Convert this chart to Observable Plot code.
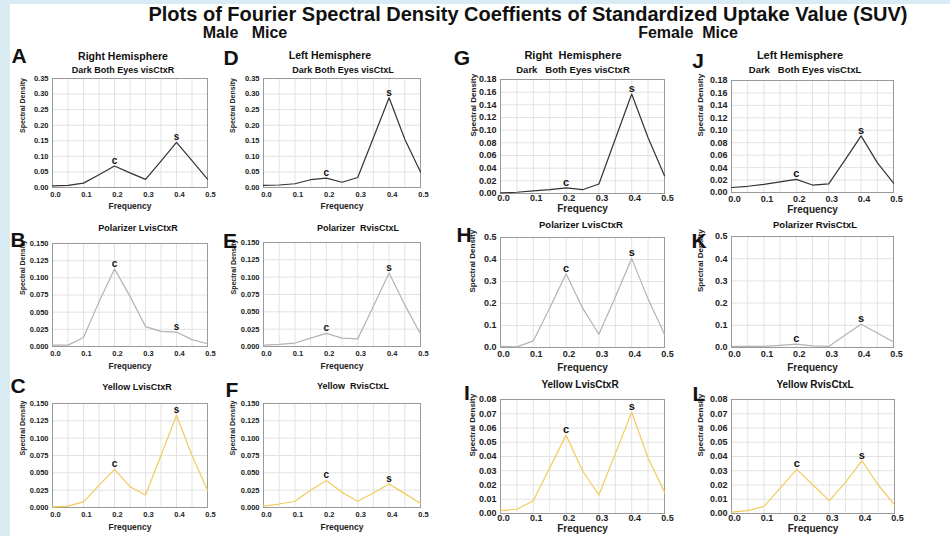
<!DOCTYPE html>
<html><head><meta charset="utf-8">
<script src="https://cdn.jsdelivr.net/npm/d3@7"></script>
<script src="https://cdn.jsdelivr.net/npm/@observablehq/plot@0.6"></script>
<style>
body{margin:0;background:#fff;}
#fig{position:relative;width:950px;height:536px;background:#d9ecf3;overflow:hidden;font-family:"Liberation Sans",Arial,sans-serif;}
#inner{position:absolute;left:10px;top:4px;right:0;bottom:0;background:#fff;}
.t{position:absolute;transform:translate(-50%,-50%);white-space:pre;font-weight:bold;color:#111;line-height:1;}
.p{position:absolute;}
</style></head><body><div id="fig"><div id="inner"></div></div>
<script>
// ---- data ----
const freq = [0, 0.05, 0.1, 0.15, 0.2, 0.25, 0.3, 0.35, 0.4, 0.45, 0.5];
const freqTicks = [0, 0.1, 0.2, 0.3, 0.4, 0.5];
const freqGrid = [0, 0.05, 0.1, 0.15, 0.2, 0.25, 0.3, 0.35, 0.4, 0.45, 0.5];

// Male mice
const sdA = [0.005, 0.007, 0.014, 0.041, 0.069, 0.047, 0.026, 0.085, 0.145, 0.086, 0.027];
const sdD = [0.007, 0.008, 0.012, 0.025, 0.030, 0.017, 0.032, 0.160, 0.288, 0.155, 0.050];
const sdB = [0.002, 0.002, 0.013, 0.065, 0.113, 0.073, 0.029, 0.022, 0.021, 0.010, 0.004];
const sdE = [0.002, 0.003, 0.005, 0.012, 0.019, 0.012, 0.011, 0.058, 0.106, 0.060, 0.018];
const sdC = [0.001, 0.002, 0.008, 0.032, 0.055, 0.030, 0.018, 0.075, 0.133, 0.075, 0.025];
const sdF = [0.002, 0.005, 0.009, 0.025, 0.039, 0.022, 0.009, 0.021, 0.034, 0.020, 0.006];
// Female mice
const sdG = [0.001, 0.002, 0.004, 0.006, 0.009, 0.006, 0.015, 0.086, 0.157, 0.088, 0.028];
const sdJ = [0.008, 0.010, 0.013, 0.017, 0.021, 0.012, 0.014, 0.052, 0.091, 0.048, 0.015];
const sdH = [0.005, 0.003, 0.030, 0.180, 0.335, 0.180, 0.060, 0.230, 0.405, 0.220, 0.060];
const sdK = [0.005, 0.005, 0.005, 0.010, 0.015, 0.007, 0.005, 0.055, 0.105, 0.065, 0.025];
const sdI = [0.002, 0.003, 0.009, 0.032, 0.055, 0.030, 0.013, 0.042, 0.071, 0.039, 0.015];
const sdL = [0.001, 0.002, 0.005, 0.018, 0.031, 0.020, 0.009, 0.022, 0.037, 0.020, 0.006];

const yTicks035 = [0, 0.05, 0.10, 0.15, 0.20, 0.25, 0.30, 0.35];
const yTicks015 = [0, 0.025, 0.05, 0.075, 0.10, 0.125, 0.15];
const yTicks018 = [0, 0.02, 0.04, 0.06, 0.08, 0.10, 0.12, 0.14, 0.16, 0.18];
const yTicks05 = [0, 0.1, 0.2, 0.3, 0.4, 0.5];
const yTicks008 = [0, 0.01, 0.02, 0.03, 0.04, 0.05, 0.06, 0.07, 0.08];

const peakLabels = ["c", "s"];
const mainTitle = "Plots of Fourier Spectral Density Coeffients of Standardized Uptake Value (SUV)";

// ---- layout ----
const fig = document.getElementById("fig");
function txt(s, x, y, size, extra) {
  const d = document.createElement("div");
  d.className = "t";
  d.textContent = s;
  d.style.left = x + "px"; d.style.top = y + "px"; d.style.fontSize = size + "px";
  if (extra) Object.assign(d.style, extra);
  fig.appendChild(d);
}

const DARK = "#333333", POL = "#b3b3b3", YEL = "#f2cb5c";

const panels = [
  {v: sdA, c: DARK, l: 52, r: 207, t: 78, b: 187, ymax: 0.35, yt: yTicks035, fmt: ".2f", fem: false, tdy: 8, fdy: 19, sdx: 30},
  {v: sdD, c: DARK, l: 263, r: 420, t: 78, b: 187, ymax: 0.35, yt: yTicks035, fmt: ".2f", fem: false, tdy: 8, fdy: 19, sdx: 31},
  {v: sdB, c: POL, l: 52, r: 207, t: 243, b: 346, ymax: 0.15, yt: yTicks015, fmt: ".3f", fem: false, tdy: 8, fdy: 20, sdx: 30},
  {v: sdE, c: POL, l: 263, r: 420, t: 242, b: 346, ymax: 0.15, yt: yTicks015, fmt: ".3f", fem: false, tdy: 8, fdy: 20, sdx: 30},
  {v: sdC, c: YEL, l: 52, r: 207, t: 403, b: 507, ymax: 0.15, yt: yTicks015, fmt: ".3f", fem: false, tdy: 8, fdy: 20, sdx: 30},
  {v: sdF, c: YEL, l: 263, r: 420, t: 403, b: 507, ymax: 0.15, yt: yTicks015, fmt: ".3f", fem: false, tdy: 8, fdy: 20, sdx: 31},
  {v: sdG, c: DARK, l: 500, r: 664, t: 79, b: 193, ymax: 0.18, yt: yTicks018, fmt: ".2f", fem: true, tdy: 6, fdy: 15, sdx: 27},
  {v: sdJ, c: DARK, l: 731, r: 893, t: 80, b: 192, ymax: 0.18, yt: yTicks018, fmt: ".2f", fem: true, tdy: 8, fdy: 17, sdx: 31},
  {v: sdH, c: POL, l: 500, r: 664, t: 237, b: 347, ymax: 0.5, yt: yTicks05, fmt: ".1f", fem: true, tdy: 8, fdy: 20, sdx: 28},
  {v: sdK, c: POL, l: 731, r: 893, t: 236, b: 347, ymax: 0.5, yt: yTicks05, fmt: ".1f", fem: true, tdy: 8, fdy: 20, sdx: 31},
  {v: sdI, c: YEL, l: 500, r: 664, t: 399, b: 513, ymax: 0.08, yt: yTicks008, fmt: ".2f", fem: true, tdy: 6, fdy: 15, sdx: 28},
  {v: sdL, c: YEL, l: 731, r: 894, t: 399, b: 513, ymax: 0.08, yt: yTicks008, fmt: ".2f", fem: true, tdy: 6, fdy: 15, sdx: 31}
];

const ML = 45, MR = 10, MT = 12, MB = 30;
for (const p of panels) {
  const tickFs = p.fem ? 9 : 7.5;
  const sdFs = p.fem ? 8 : 7;
  const frFs = p.fem ? 10 : 8.5;
  const pts = freq.map((f, i) => ({f, s: p.v[i]}));
  const peaks = [{f: freq[4], s: p.v[4], t: peakLabels[0]}, {f: freq[8], s: p.v[8], t: peakLabels[1]}];
  const chart = Plot.plot({
    width: p.r - p.l + ML + MR,
    height: p.b - p.t + MT + MB,
    marginLeft: ML, marginRight: MR, marginTop: MT, marginBottom: MB,
    style: {background: "transparent", overflow: "visible", fontFamily: "'Liberation Sans', Arial, sans-serif", fontWeight: "bold", color: "#222"},
    x: {domain: [0, 0.5]},
    y: {domain: [0, p.ymax]},
    marks: [
      Plot.gridX(freqGrid, {stroke: "#e2e2e2", strokeOpacity: 1}),
      Plot.gridY(p.yt, {stroke: "#e2e2e2", strokeOpacity: 1}),
      Plot.frame({stroke: "#9a9a9a"}),
      Plot.line(pts, {x: "f", y: "s", stroke: p.c, strokeWidth: 1.2}),
      Plot.text(peaks, {x: "f", y: "s", text: "t", lineAnchor: "bottom", dy: -2, fontSize: p.fem ? 11 : 10, fontWeight: "bold", fill: "#111"}),
      Plot.axisX(freqTicks, {tickSize: 0, tickPadding: p.tdy - tickFs / 2, dx: 3, tickFormat: d3.format(".1f"), fontSize: tickFs, label: null}),
      Plot.axisY(p.yt, {tickSize: 0, tickPadding: 4, tickFormat: d3.format(p.fmt), fontSize: tickFs, label: null}),
      Plot.text([0], {frameAnchor: "left", dx: -p.sdx, rotate: -90, text: () => "Spectral Density", fontSize: sdFs, fontWeight: "bold", fill: "#222"}),
      Plot.text([0], {frameAnchor: "bottom", dy: p.fdy, lineAnchor: "middle", text: () => "Frequency", fontSize: frFs, fontWeight: "bold", fill: "#222"})
    ]
  });
  chart.classList.add("p");
  chart.style.left = (p.l - ML) + "px";
  chart.style.top = (p.t - MT) + "px";
  fig.appendChild(chart);
}

// ---- titles ----
txt(mainTitle, 528, 14, 20);
txt("Male   Mice", 245, 33, 16);
txt("Female  Mice", 688, 33, 16);

txt("Right Hemisphere", 123, 56, 10.5);
txt("Dark Both Eyes visCtxR", 123, 70, 9);
txt("Left Hemisphere", 330, 55, 10.5);
txt("Dark Both Eyes visCtxL", 343, 70, 9);
txt("Right  Hemisphere", 573, 55, 11);
txt("Dark   Both Eyes visCtxR", 573, 70, 9.5);
txt("Left Hemisphere", 800, 55, 11);
txt("Dark   Both Eyes visCtxL", 805, 70, 9.5);

txt("Polarizer LvisCtxR", 138, 228, 9);
txt("Polarizer  RvisCtxL", 358, 228, 9);
txt("Polarizer LvisCtxR", 581, 225, 9.5);
txt("Polarizer RvisCtxL", 815, 225, 9.5);

txt("Yellow LvisCtxR", 137, 387, 9);
txt("Yellow  RvisCtxL", 353, 386, 9);
txt("Yellow LvisCtxR", 580, 385, 10);
txt("Yellow RvisCtxL", 815, 385, 10);

const LET = 21;
txt("A", 19, 55, LET);
txt("B", 18, 239, LET);
txt("C", 18, 385, LET);
txt("D", 231, 57, LET);
txt("E", 230, 240, LET);
txt("F", 232, 389, LET);
txt("G", 462, 57, LET);
txt("H", 464, 234, LET);
txt("I", 467, 392, LET);
txt("J", 698, 60, LET);
txt("K", 699, 240, LET);
txt("L", 699, 393, LET);
</script></body></html>
